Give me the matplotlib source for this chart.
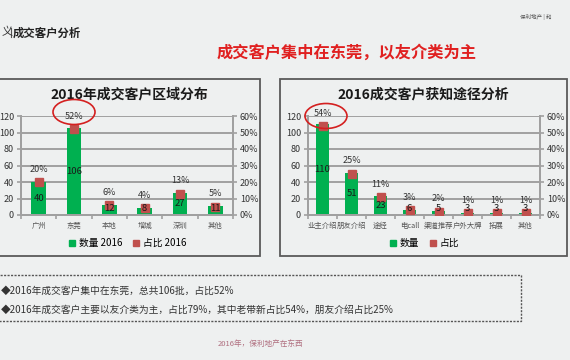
import numpy as np
import matplotlib.pyplot as plt
from matplotlib.patches import Rectangle, Ellipse
from matplotlib.lines import Line2D

plt.rcParams['font.family'] = ['Noto Sans CJK SC', 'DejaVu Sans']

W, H = 570, 360

# left panel: region
region_cats = ['广州', '东莞', '本地', '增城', '深圳', '其他']
region_counts = [40, 106, 12, 8, 27, 11]
region_share = [20, 52, 6, 4, 13, 5]

# right panel: how customers heard about the project
source_cats = ['业主介绍', '朋友介绍', '途经', '电call', '渠道推荐', '户外大牌', '拓展', '其他']
source_counts = [110, 51, 23, 6, 5, 3, 3, 3]
source_share = [54, 25, 11, 3, 2, 1, 1, 1]

count_ticks = [0, 20, 40, 60, 80, 100, 120]
share_ticks = [0, 10, 20, 30, 40, 50, 60]

GREEN = '#00b050'
RED_MK = '#c0504d'
GRID = '#a0a0a0'
BG = '#eef0f0'


def frect(x0, y0, x1, y1):
    # pixel box (top-left origin) -> figure fraction rect
    return [x0 / W, 1 - y1 / H, (x1 - x0) / W, (y1 - y0) / H]


def fxy(x, y):
    return x / W, 1 - y / H


fig = plt.figure(figsize=(W / 100, H / 100), dpi=100)
fig.patch.set_facecolor(BG)


def panel(box, axbox, cats, counts, share, title, leg_labels, circle):
    bx0, by0, bx1, by1 = box
    fig.patches.append(Rectangle(fxy(bx0, by1), (bx1 - bx0) / W, (by1 - by0) / H,
                                 transform=fig.transFigure, fill=False,
                                 edgecolor='#5a5a5a', lw=1.3, zorder=0))
    fig.text(*fxy((bx0 + bx1) / 2, 95), title, ha='center', va='center',
             fontsize=10, fontweight='bold', color='#1a1a1a')

    ax = fig.add_axes(frect(*axbox))
    ax.set_facecolor('none')
    x = np.arange(len(cats))
    ax.bar(x, counts, width=0.42, color=GREEN, zorder=2)
    ax.set_xlim(-0.5, len(cats) - 0.5)
    ax.set_ylim(0, 120)
    ax.set_yticks(count_ticks)
    ax.yaxis.grid(True, color=GRID, lw=1.4)
    ax.set_axisbelow(True)
    ax.set_xticks(x)
    ax.set_xticklabels(cats, fontsize=5.3, color='#555555')
    ax.set_xticks(np.arange(len(cats) + 1) - 0.5, minor=True)
    ax.tick_params(axis='x', which='major', length=0, pad=5)
    ax.tick_params(axis='x', which='minor', length=3, color=GRID, width=1.2)
    ax.tick_params(axis='y', labelsize=6.5, length=3, color=GRID, width=1.2,
                   pad=2, labelcolor='#333333')
    for s in ['left', 'right', 'bottom']:
        ax.spines[s].set_color(GRID)
        ax.spines[s].set_linewidth(1.4)
    ax.spines['top'].set_visible(False)

    ax2 = ax.twinx()
    ax2.set_ylim(0, 60)
    ax2.set_yticks(share_ticks)
    ax2.set_yticklabels([f'{t}%' for t in share_ticks])
    ax2.plot(x, share, 's', color=RED_MK, ms=5.5, zorder=3)
    ax2.tick_params(axis='y', labelsize=6.5, length=3, color=GRID, width=1.2,
                    pad=2, labelcolor='#333333')
    for s in ['left', 'right', 'bottom']:
        ax2.spines[s].set_color(GRID)
        ax2.spines[s].set_linewidth(1.4)
    ax2.spines['top'].set_visible(False)
    for xi, p in zip(x, share):
        ax2.annotate(f'{p}%', (xi, p), xytext=(0, 6), textcoords='offset points',
                     ha='center', va='bottom', fontsize=6.5, color='#333333')

    # count labels sit mid-bar (pushed up on short bars), drawn over the markers
    for xi, v in zip(x, counts):
        ax2.text(xi, max(v / 2, 8) / 2, str(v), ha='center', va='center',
                 fontsize=6.8, color='#1a1a1a', zorder=4)

    handles = [Line2D([], [], marker='s', ls='', color=GREEN, ms=5),
               Line2D([], [], marker='s', ls='', color=RED_MK, ms=5)]
    fig.legend(handles, leg_labels, loc='center',
               bbox_to_anchor=fxy((axbox[0] + axbox[2]) / 2, 243),
               ncol=2, frameon=False, fontsize=7, handlelength=0.8,
               handletextpad=0.3, columnspacing=1.0)

    cx, cy = circle
    fig.patches.append(Ellipse(fxy(cx, cy), 42 / W, 25 / H,
                               transform=fig.transFigure, fill=False,
                               edgecolor='#d42020', lw=1.2, zorder=5))


panel((-2, 79, 260, 256), (21, 116, 233, 215), region_cats, region_counts,
      region_share, '2016年成交客户区域分布', ['数量 2016', '占比 2016'], (74, 112))
panel((280, 79, 567, 256), (308, 116, 540, 215), source_cats, source_counts,
      source_share, '2016成交客户获知途径分析', ['数量', '占比'], (326, 116))

# header
fig.text(*fxy(2, 32), '义', fontsize=8, color='#333333', va='center')
fig.add_artist(Line2D([11 / W, 11 / W], [1 - 28 / H, 1 - 37 / H], color='#555555', lw=0.8))
fig.text(*fxy(13, 33), '成交客户分析', fontsize=8.2, fontweight='bold',
         color='#222222', va='center')
fig.text(*fxy(347, 52), '成交客户集中在东莞，以友介类为主', fontsize=11.7,
         fontweight='bold', color='#e02020', ha='center', va='center')
fig.text(*fxy(520, 17), '保利地产 | 和', fontsize=4, color='#555555', va='center')

# notes box
fig.patches.append(Rectangle(fxy(-2, 321), 523 / W, 46 / H,
                             transform=fig.transFigure, fill=False,
                             edgecolor='#555555', lw=1.0, ls=(0, (1.5, 1)), zorder=0))
fig.text(*fxy(1, 291), '◆2016年成交客户集中在东莞，总共106批，占比52%',
         fontsize=7, color='#333333', va='center')
fig.text(*fxy(1, 310), '◆2016年成交客户主要以友介类为主，占比79%，其中老带新占比54%，朋友介绍占比25%',
         fontsize=7, color='#333333', va='center')

fig.text(*fxy(261, 344), '2016年，保利地产在东西', fontsize=5.5, color='#b07080',
         ha='center', va='center')

fig.savefig('out.png', dpi=100, facecolor=BG)
